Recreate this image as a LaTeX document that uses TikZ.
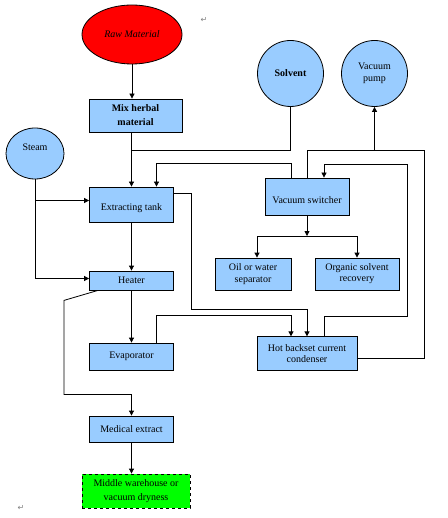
\documentclass[tikz,border=0pt]{standalone}
\usepackage{fontspec}
\setmainfont{Liberation Serif}
\newfontfamily\markfont{DejaVu Sans}
\usetikzlibrary{shapes.geometric,arrows.meta}
\definecolor{boxblue}{RGB}{153,204,255}
\definecolor{rawred}{RGB}{255,0,0}
\definecolor{endgreen}{RGB}{0,255,0}
\begin{document}
\begin{tikzpicture}
  [
    x=1pt, y=-1pt,
    font=\fontsize{10}{12}\selectfont,
    line width=0.8pt,
    box/.style={draw, fill=boxblue, align=center, inner sep=0pt},
    blob/.style={draw, ellipse, fill=boxblue, align=center, inner sep=0pt},
    arr/.style={-{Triangle[length=5pt,width=5pt]}},
    mrk/.style={text=gray, font=\markfont\fontsize{8}{8}\selectfont}
  ]
  \useasboundingbox (0,0) rectangle (447,518);
  % sources
  \node [blob, fill=rawred, minimum width=100pt, minimum height=59pt] (raw) at (132,34.5) {\itshape Raw Material};
  \node [blob, minimum width=66pt, minimum height=66pt] (solvent) at (290.5,73.5) {\bfseries Solvent};
  \node [blob, minimum width=66pt, minimum height=66pt] (pump) at (374.5,73.5) {Vacuum\\pump};
  \node [blob, minimum width=58pt, minimum height=51pt] (steam) at (35,153.5) {Steam\\\mbox{}};
  % process boxes
  \node [box, minimum width=93pt, minimum height=33pt, font=\fontsize{10}{14}\selectfont\bfseries] (mix) at (135.5,115.5) {Mix herbal\\material};
  \node [box, minimum width=84pt, minimum height=35pt, font=\fontsize{10}{14}\selectfont] (ext) at (131.5,204.5) {\mbox{}\\Extracting tank};
  \node [box, minimum width=84pt, minimum height=37pt, font=\fontsize{10}{14}\selectfont] (vs) at (307,196.5) {\mbox{}\\Vacuum switcher};
  \node [box, minimum width=76pt, minimum height=32pt] (oil) at (253,274) {Oil or water\\separator};
  \node [box, minimum width=84pt, minimum height=32pt, font=\fontsize{10}{11}\selectfont] (org) at (357,274) {Organic solvent\\recovery};
  \node [box, minimum width=84pt, minimum height=19pt] (heater) at (131.5,280.5) {Heater};
  \node [box, minimum width=84pt, minimum height=27pt] (evap) at (131.5,356.5) {Evaporator};
  \node [box, minimum width=100pt, minimum height=33.5pt, font=\fontsize{10}{11}\selectfont] (cond) at (307,353.5) {Hot backset current\\condenser};
  \node [box, minimum width=84pt, minimum height=26pt] (med) at (131.5,429) {Medical extract};
  \node [box, dashed, fill=endgreen, minimum width=108pt, minimum height=34pt, font=\fontsize{10}{14}\selectfont] (mid) at (136,491) {Middle warehouse or\\vacuum dryness};
  % junctions
  \coordinate (sj) at (131.5,150);
  \coordinate (rt) at (424,150);
  \coordinate (rl) at (407,316);
  \coordinate (sp) at (307,236);
  % connectors
  \draw [arr] (raw.south) -- (raw.south |- mix.north);
  \draw [arr] (mix.south -| ext.north) -- (ext.north);
  \draw (solvent.south) |- (sj);
  \draw [arr] ([xshift=-16pt]vs.north) -- ++(0,-14) -| ([xshift=25pt]ext.north);
  \draw (vs.north) |- (rt) |- ([yshift=-5pt]cond.east);
  \draw [arr] (pump.south |- rt) -- (pump.south);
  \draw [arr] ([xshift=17pt]cond.north) |- (rl) -- ++(0,-152) -| ([xshift=17pt]vs.north);
  \draw [arr] (vs.south) -- (sp);
  \draw [arr] (sp) -| ([xshift=4pt]oil.north);
  \draw [arr] (sp) -| (org.north);
  \draw [arr] (steam.south) |- ([yshift=2pt]heater.west);
  \draw [arr] ([yshift=4pt]ext.west -| steam.south) -- ([yshift=4pt]ext.west);
  \draw [arr] (ext.south) -- (heater.north);
  \draw [arr] ([yshift=11.5pt]ext.east) -- ++(17,0) -- ++(0,116) -| (cond.north);
  \draw [arr] (heater.south) -- (evap.north);
  \draw [arr] ([xshift=25pt]evap.north) -- ++(0,-27) -| ([xshift=-16pt]cond.north);
  \draw [arr] ([xshift=-33.5pt]heater.south) -- ++(-34,10) -- ++(0,94) -| (med.north);
  \draw [arr] (med.south) -- (med.south |- mid.north);
  % paragraph marks
  \node [mrk] (pm1) at (204,20) {↵};
  \node [mrk] (pm2) at (21,508) {↵};
\end{tikzpicture}
\end{document}
